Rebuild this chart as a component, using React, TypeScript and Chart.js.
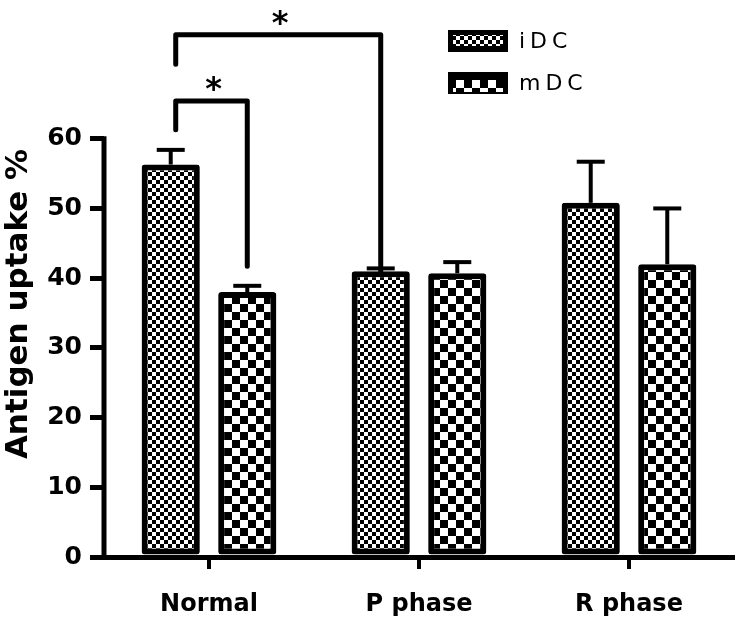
import React, { useEffect, useRef } from 'react';
import { Chart, registerables } from 'chart.js';

Chart.register(...registerables);

const categories = ['Normal', 'P phase', 'R phase'];
const seriesNames = ['iDC', 'mDC'];
const idcValues = [56.3, 41.0, 50.8];
const idcErrors = [2.1, 0.4, 5.9];
const mdcValues = [38.0, 40.7, 42.0];
const mdcErrors = [0.9, 1.6, 8.0];
const yTickValues = [0, 10, 20, 30, 40, 50, 60];
const yTitle = 'Antigen uptake %';
// significance brackets: [dataset, category] of each end, level of bar, feet levels, label
const sigFrom = [[0, 0], [0, 0]];
const sigTo = [[1, 0], [0, 1]];
const sigLevels = [65.4, 74.9];
const sigLeftFeet = [61.3, 70.7];
const sigRightFeet = [41.7, 41.0];
const sigLabels = ['*', '*'];

const FONT = '"DejaVu Sans", sans-serif';

function makeChecker(cell: number): CanvasPattern | string {
  const c = document.createElement('canvas');
  c.width = cell * 2;
  c.height = cell * 2;
  const g = c.getContext('2d');
  if (!g) return '#000';
  g.fillStyle = '#fff';
  g.fillRect(0, 0, cell * 2, cell * 2);
  g.fillStyle = '#000';
  g.fillRect(0, 0, cell, cell);
  g.fillRect(cell, cell, cell, cell);
  const p = g.createPattern(c, 'repeat');
  return p || '#000';
}

export default function App() {
  const ref = useRef<HTMLCanvasElement | null>(null);

  useEffect(() => {
    const canvas = ref.current;
    if (!canvas) return;
    const fine = makeChecker(4);
    const coarse = makeChecker(8);
    const patterns = [fine, coarse];
    const allValues = [idcValues, mdcValues];
    const allErrors = [idcErrors, mdcErrors];

    const overlay = {
      id: 'overlay',
      afterDatasetsDraw(chart: any) {
        const ctx = chart.ctx as CanvasRenderingContext2D;
        const ys = chart.scales.y;
        const area = chart.chartArea;
        ctx.save();
        ctx.strokeStyle = '#000';
        ctx.fillStyle = '#000';
        ctx.lineCap = 'butt';
        // y axis line (0..60 only)
        ctx.lineWidth = 5;
        ctx.beginPath();
        ctx.moveTo(area.left, ys.getPixelForValue(yTickValues[yTickValues.length - 1]) - 2.5);
        ctx.lineTo(area.left, ys.getPixelForValue(0) + 2);
        ctx.stroke();
        // error bars (upper only)
        allValues.forEach((vals, di) => {
          const meta = chart.getDatasetMeta(di);
          meta.data.forEach((bar: any, i: number) => {
            const top = ys.getPixelForValue(vals[i]);
            const end = ys.getPixelForValue(vals[i] + allErrors[di][i]);
            ctx.lineWidth = 4;
            ctx.beginPath();
            ctx.moveTo(bar.x, top);
            ctx.lineTo(bar.x, end);
            ctx.stroke();
            ctx.beginPath();
            ctx.moveTo(bar.x - 14, end);
            ctx.lineTo(bar.x + 14, end);
            ctx.stroke();
          });
        });
        // significance brackets
        sigLevels.forEach((lvl, k) => {
          const a = chart.getDatasetMeta(sigFrom[k][0]).data[sigFrom[k][1]];
          const b = chart.getDatasetMeta(sigTo[k][0]).data[sigTo[k][1]];
          const xa = a.x + 5;
          const xb = b.x;
          const yl = ys.getPixelForValue(lvl);
          ctx.lineWidth = 5;
          ctx.lineJoin = 'round';
          ctx.lineCap = 'round';
          ctx.beginPath();
          ctx.moveTo(xa, ys.getPixelForValue(sigLeftFeet[k]));
          ctx.lineTo(xa, yl);
          ctx.lineTo(xb, yl);
          ctx.lineTo(xb, ys.getPixelForValue(sigRightFeet[k]));
          ctx.stroke();
          ctx.font = `bold 32px ${FONT}`;
          ctx.textAlign = 'center';
          ctx.textBaseline = 'alphabetic';
          ctx.fillText(sigLabels[k], (xa + xb) / 2 + 2, yl - 20 + 18);
        });
        // legend
        const lx = 448;
        const lw = 60;
        const rows = [30, 72];
        seriesNames.forEach((name, k) => {
          const ly = rows[k];
          ctx.fillStyle = '#000';
          ctx.fillRect(lx, ly, lw, 22);
          ctx.fillStyle = patterns[k] as any;
          if (k === 0) ctx.fillRect(lx + 5, ly + 5, lw - 10, 11);
          else ctx.fillRect(lx + 5, ly + 8, lw - 10, 12);
          ctx.fillStyle = '#000';
          ctx.font = `22px ${FONT}`;
          (ctx as any).letterSpacing = '5px';
          ctx.textAlign = 'left';
          ctx.textBaseline = 'middle';
          ctx.fillText(name, 519, ly + 12);
          (ctx as any).letterSpacing = '0px';
        });
        // y title
        ctx.save();
        ctx.translate(27, 304);
        ctx.rotate(-Math.PI / 2);
        ctx.font = `bold 31px ${FONT}`;
        ctx.textAlign = 'center';
        ctx.textBaseline = 'alphabetic';
        ctx.fillText(yTitle, 0, 0);
        ctx.restore();
        ctx.restore();
      },
    };

    const chart = new Chart(canvas, {
      type: 'bar',
      data: {
        labels: categories,
        datasets: seriesNames.map((name, k) => ({
          label: name,
          data: allValues[k],
          backgroundColor: patterns[k] as any,
          borderColor: '#000',
          borderWidth: 6,
          borderSkipped: false,
          borderRadius: 3,
          categoryPercentage: 0.729,
          barPercentage: 0.76,
        })),
      },
      options: {
        animation: false,
        responsive: false,
        devicePixelRatio: 1,
        layout: { padding: { top: 0, right: 1, bottom: 0, left: 0 } },
        plugins: { legend: { display: false }, tooltip: { enabled: false } },
        scales: {
          x: {
            grid: {
              drawOnChartArea: false,
              drawTicks: true,
              tickLength: 12,
              lineWidth: 4,
              color: '#000',
              offset: false,
            },
            border: { display: true, color: '#000', width: 5 },
            ticks: {
              color: '#000',
              padding: 21,
              font: { family: FONT, size: 24, weight: 'bold' },
            },
            afterFit(scale: any) {
              scale.height = 62;
            },
          },
          y: {
            min: 0,
            max: 76.6,
            grid: {
              drawOnChartArea: false,
              drawTicks: true,
              tickLength: 14,
              lineWidth: 5,
              color: '#000',
            },
            border: { display: false },
            ticks: {
              stepSize: 10,
              color: '#000',
              padding: 8,
              font: { family: FONT, size: 25, weight: 'bold' },
            },
            afterBuildTicks(scale: any) {
              scale.ticks = yTickValues.map((v) => ({ value: v }));
            },
            afterFit(scale: any) {
              scale.width = 104;
            },
          },
        },
      },
      plugins: [overlay],
    } as any);
    return () => chart.destroy();
  }, []);

  return (
    <div style={{ position: 'absolute', left: 0, top: 0, width: 735, height: 619, background: '#fff' }}>
      <canvas ref={ref} width={735} height={619} />
    </div>
  );
}
